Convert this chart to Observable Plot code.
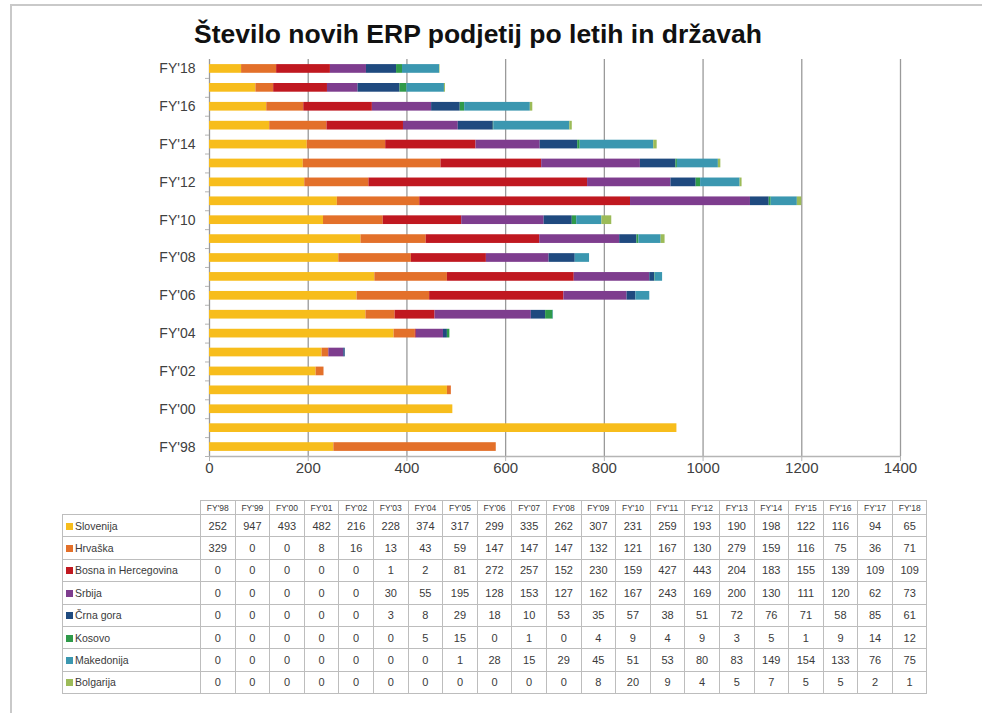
<!DOCTYPE html>
<html>
<head>
<meta charset="utf-8">
<script src="https://cdn.jsdelivr.net/npm/d3@7"></script>
<script src="https://cdn.jsdelivr.net/npm/@observablehq/plot@0.6"></script>
<style>
  html, body { margin: 0; padding: 0; background: #fff; width: 982px; height: 713px; overflow: hidden; position: relative; }
  #frame { position: absolute; left: 10px; top: 4px; width: 1000px; height: 800px; border-left: 2px solid #c9c9c9; border-top: 2px solid #c9c9c9; }
  #title { position: absolute; left: 0; width: 956px; top: 19px; text-align: center; font-family: "Liberation Sans", Arial, sans-serif; font-weight: bold; font-size: 26.5px; color: #111; }
  #chart { position: absolute; left: 0; top: 0; }
  #tbl { position: absolute; left: 62px; top: 500px; border-collapse: collapse; table-layout: fixed; font-family: "Liberation Sans", Arial, sans-serif; color: #3a3a3a; }
  #tbl td { border: 1px solid #bdbdbd; text-align: center; padding: 0; font-size: 11px; height: 21.4px; }
  #tbl tr.hdr td { font-size: 8.5px; height: 13px; }
  #tbl tr.hdr td.blank { border: none; }
  #tbl td.lab { text-align: left; padding-left: 3px; font-size: 10.5px; white-space: nowrap; }
  .sw { display: inline-block; width: 7px; height: 7px; margin-right: 2px; vertical-align: 0px; }
</style>
</head>
<body>
<div id="frame"></div>
<div id="chart"></div>
<div id="title">Število novih ERP podjetij po letih in državah</div>
<table id="tbl"></table>
<script>
const years = ["FY'98","FY'99","FY'00","FY'01","FY'02","FY'03","FY'04","FY'05","FY'06","FY'07","FY'08","FY'09","FY'10","FY'11","FY'12","FY'13","FY'14","FY'15","FY'16","FY'17","FY'18"];
const countries = ["Slovenija","Hrvaška","Bosna in Hercegovina","Srbija","Črna gora","Kosovo","Makedonija","Bolgarija"];
const colors = ["#f7bd1c","#e3702a","#c01820","#7e3d8e","#1f4a7f","#2f9a4a","#3b97b0","#9cbb58"];

const slovenija  = [252,947,493,482,216,228,374,317,299,335,262,307,231,259,193,190,198,122,116,94,65];
const hrvaska    = [329,0,0,8,16,13,43,59,147,147,147,132,121,167,130,279,159,116,75,36,71];
const bosna      = [0,0,0,0,0,1,2,81,272,257,152,230,159,427,443,204,183,155,139,109,109];
const srbija     = [0,0,0,0,0,30,55,195,128,153,127,162,167,243,169,200,130,111,120,62,73];
const crnaGora   = [0,0,0,0,0,3,8,29,18,10,53,35,57,38,51,72,76,71,58,85,61];
const kosovo     = [0,0,0,0,0,0,5,15,0,1,0,4,9,4,9,3,5,1,9,14,12];
const makedonija = [0,0,0,0,0,0,0,1,28,15,29,45,51,53,80,83,149,154,133,76,75];
const bolgarija  = [0,0,0,0,0,0,0,0,0,0,0,8,20,9,4,5,7,5,5,2,1];

const series = [slovenija, hrvaska, bosna, srbija, crnaGora, kosovo, makedonija, bolgarija];
const yTickLabels = ["FY'98","FY'00","FY'02","FY'04","FY'06","FY'08","FY'10","FY'12","FY'14","FY'16","FY'18"];
const xTicks = [0,200,400,600,800,1000,1200,1400];

const rows = [];
countries.forEach((c, ci) => years.forEach((y, yi) => rows.push({year: y, country: c, value: series[ci][yi]})));

const yDomain = years.slice().reverse();
const step = (456 - 59) / years.length;

const chart = Plot.plot({
  width: 982,
  height: 484,
  marginLeft: 209,
  marginRight: 82,
  marginTop: 59,
  marginBottom: 28,
  style: {fontFamily: "'Liberation Sans', Arial, sans-serif", background: "transparent", color: "#404040"},
  x: {domain: [0, 1400]},
  y: {domain: yDomain, paddingInner: 0.54, paddingOuter: 0.27, round: false},
  color: {domain: countries, range: colors},
  marks: [
    Plot.gridX(xTicks.slice(1), {stroke: "#9a9a9a", strokeOpacity: 1, strokeWidth: 1.3}),
    Plot.ruleX([0], {stroke: "#9a9a9a", strokeWidth: 1.3}),
    Plot.ruleY([years[0]], {dy: step / 2, stroke: "#b5b5b5", strokeWidth: 1.3}),
    Plot.barX(rows, Plot.stackX({x: "value", y: "year", fill: "country", order: countries})),
    Plot.axisX({ticks: xTicks, tickFormat: d => String(d), tickSize: 5, tickPadding: 1, fontSize: 15, stroke: "#b5b5b5", fill: "#404040", label: null}),
    Plot.axisY({tickSize: 4, tickFormat: () => "", dy: step / 2, stroke: "#b5b5b5", label: null}),
    Plot.axisY({ticks: yTickLabels, tickSize: 0, tickPadding: 14, fontSize: 14, fill: "#404040", label: null})
  ]
});
document.getElementById("chart").appendChild(chart);

// data table built from the same arrays
const tbl = d3.select("#tbl");
const colgroup = tbl.append("colgroup");
colgroup.append("col").style("width", "138px");
years.forEach(() => colgroup.append("col").style("width", "34.6px"));
const hdr = tbl.append("tr").attr("class", "hdr");
hdr.append("td").attr("class", "blank");
years.forEach(y => hdr.append("td").text(y));
countries.forEach((c, ci) => {
  const tr = tbl.append("tr");
  const lab = tr.append("td").attr("class", "lab");
  lab.append("span").attr("class", "sw").style("background", colors[ci]);
  lab.append("span").text(c);
  series[ci].forEach(v => tr.append("td").text(v));
});
</script>
</body>
</html>
